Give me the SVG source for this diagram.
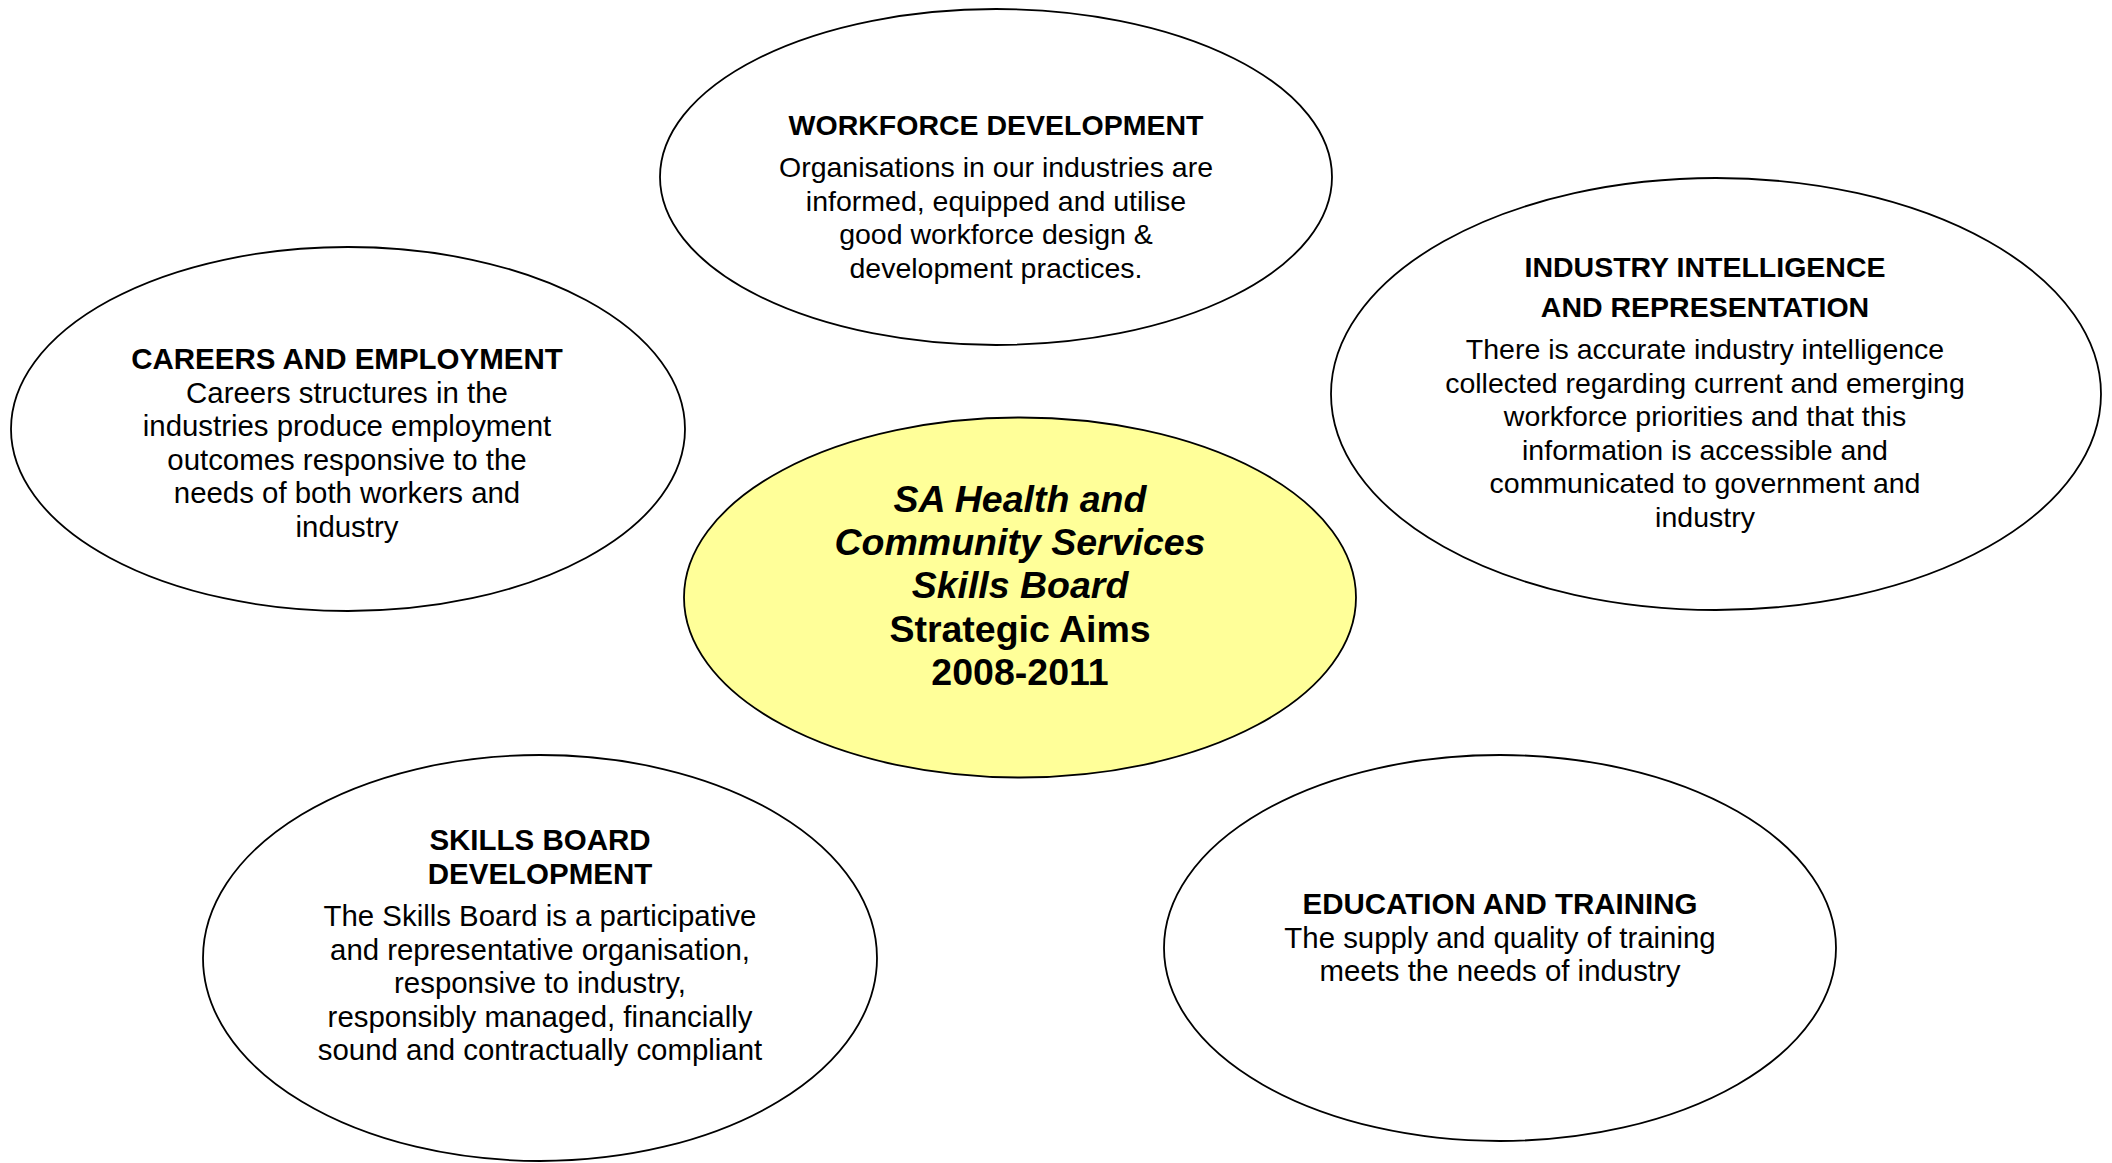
<svg xmlns="http://www.w3.org/2000/svg" width="2112" height="1163" viewBox="0 0 2112 1163">
<style>
.node{fill:#FFFFFF;stroke:#000000;stroke-width:1.8}
.hub{fill:#FFFF99;stroke:#000000;stroke-width:1.8}
text{font-family:"Liberation Sans",Arial,Helvetica,sans-serif;fill:#000000;text-anchor:middle}
.t{font-weight:bold;font-size:28.5px}
.b{font-size:28.5px}
.t2{font-weight:bold;font-size:29.5px}
.b2{font-size:29.4px}
.c{font-weight:bold;font-size:37.5px}
.ci{font-weight:bold;font-style:italic;font-size:37.5px}
</style>
<rect x="0" y="0" width="2112" height="1163" fill="#FFFFFF"/>
<g id="connectors"></g>
<g id="workforce-development">
<ellipse class="node" cx="996" cy="177" rx="336" ry="168"/>
<text class="t" x="996" y="135">WORKFORCE DEVELOPMENT</text>
<text class="b" x="996" y="177">Organisations in our industries are</text>
<text class="b" x="996" y="210.5">informed, equipped and utilise</text>
<text class="b" x="996" y="244">good workforce design &amp;</text>
<text class="b" x="996" y="277.5">development practices.</text>
</g>
<g id="careers-employment">
<ellipse class="node" cx="348" cy="429" rx="337" ry="182"/>
<text class="t2" x="347" y="368.5">CAREERS AND EMPLOYMENT</text>
<text class="b2" x="347" y="402.5">Careers structures in the</text>
<text class="b2" x="347" y="436">industries produce employment</text>
<text class="b2" x="347" y="469.5">outcomes responsive to the</text>
<text class="b2" x="347" y="503">needs of both workers and</text>
<text class="b2" x="347" y="536.5">industry</text>
</g>
<g id="industry-intelligence">
<ellipse class="node" cx="1716" cy="394" rx="385" ry="216"/>
<text class="t" x="1705" y="276.5">INDUSTRY INTELLIGENCE</text>
<text class="t" x="1705" y="317">AND REPRESENTATION</text>
<text class="b" x="1705" y="359">There is accurate industry intelligence</text>
<text class="b" x="1705" y="392.5">collected regarding current and emerging</text>
<text class="b" x="1705" y="426">workforce priorities and that this</text>
<text class="b" x="1705" y="459.5">information is accessible and</text>
<text class="b" x="1705" y="493">communicated to government and</text>
<text class="b" x="1705" y="526.5">industry</text>
</g>
<g id="strategic-aims">
<ellipse class="hub" cx="1020" cy="597.5" rx="336" ry="180"/>
<text class="ci" x="1020" y="512">SA Health and</text>
<text class="ci" x="1020" y="555">Community Services</text>
<text class="ci" x="1020" y="598">Skills Board</text>
<text class="c" x="1020" y="641.5">Strategic Aims</text>
<text class="c" x="1020" y="685">2008-2011</text>
</g>
<g id="skills-board-development">
<ellipse class="node" cx="540" cy="958" rx="337" ry="203"/>
<text class="t2" x="540" y="850">SKILLS BOARD</text>
<text class="t2" x="540" y="883.5">DEVELOPMENT</text>
<text class="b2" x="540" y="926">The Skills Board is a participative</text>
<text class="b2" x="540" y="959.5">and representative organisation,</text>
<text class="b2" x="540" y="993">responsive to industry,</text>
<text class="b2" x="540" y="1026.5">responsibly managed, financially</text>
<text class="b2" x="540" y="1060">sound and contractually compliant</text>
</g>
<g id="education-training">
<ellipse class="node" cx="1500" cy="948" rx="336" ry="193"/>
<text class="t2" x="1500" y="913.5">EDUCATION AND TRAINING</text>
<text class="b2" x="1500" y="947.5">The supply and quality of training</text>
<text class="b2" x="1500" y="981">meets the needs of industry</text>
</g>
</svg>
